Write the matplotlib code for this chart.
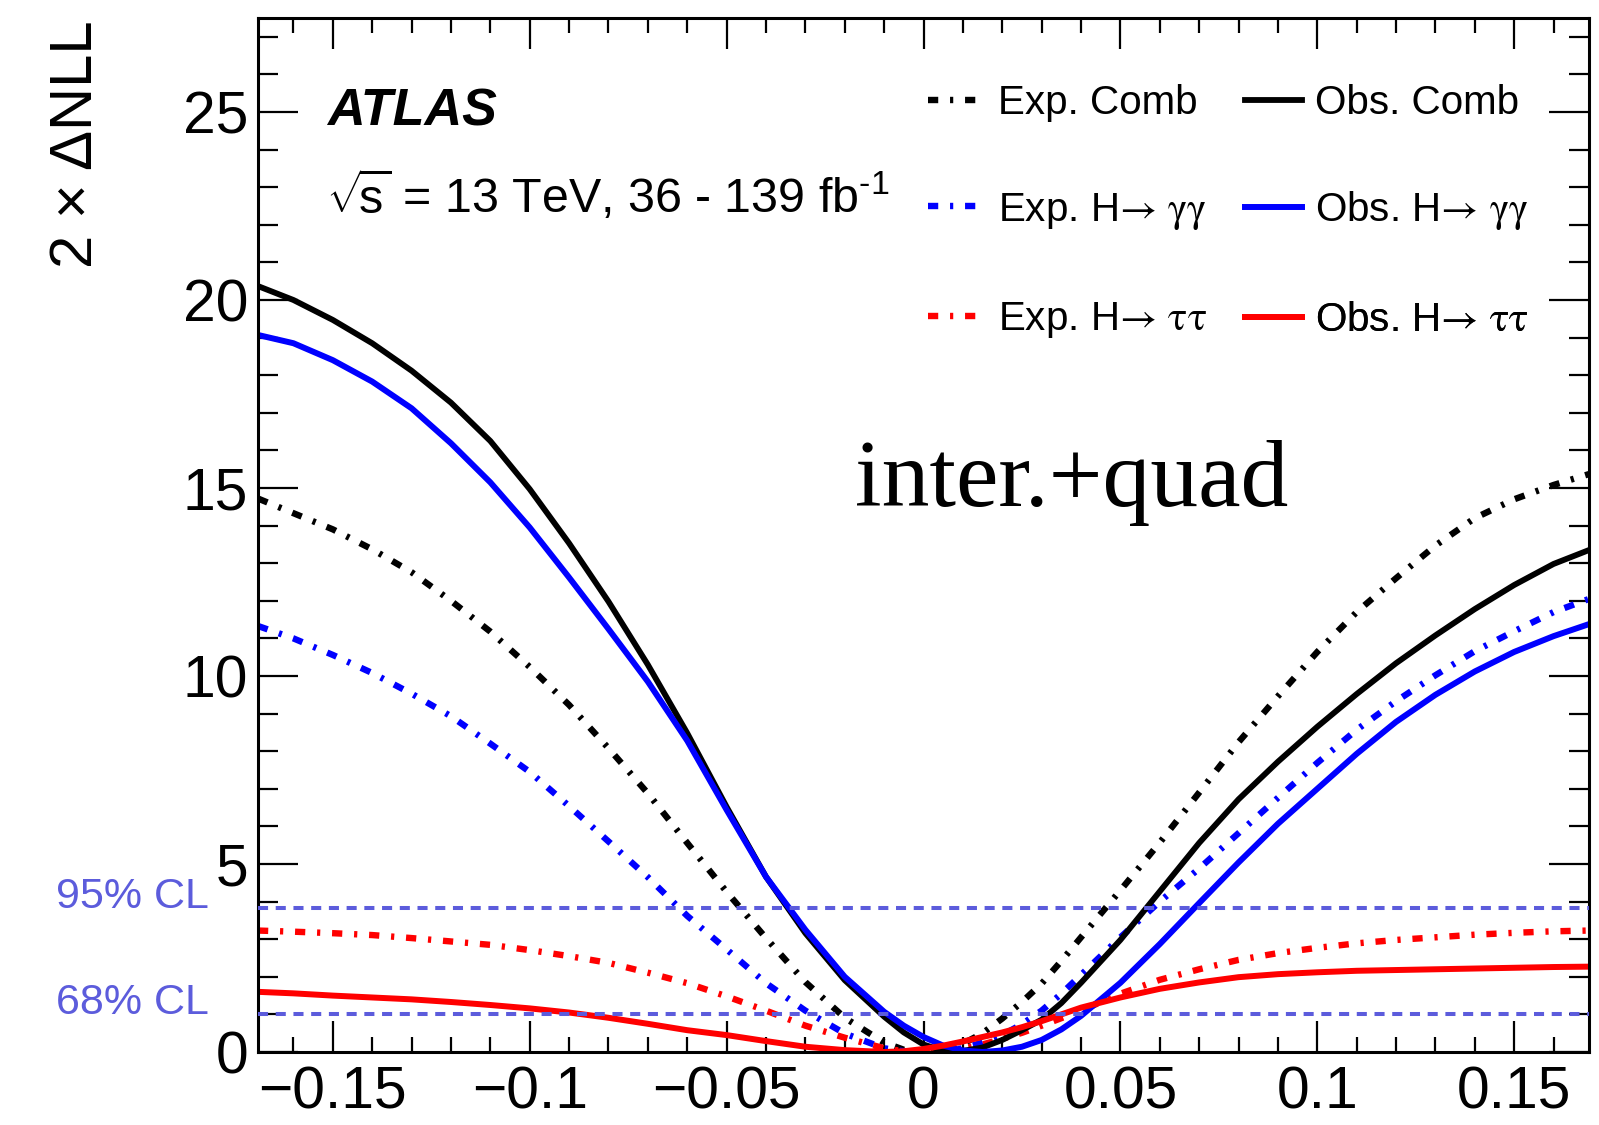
import matplotlib
matplotlib.use("Agg")
import matplotlib.pyplot as plt
from matplotlib.transforms import blended_transform_factory
from matplotlib.ticker import MultipleLocator, FixedLocator, FixedFormatter

plt.rcParams['font.family'] = ['Liberation Sans', 'DejaVu Sans']
plt.rcParams['mathtext.fontset'] = 'custom'
plt.rcParams['mathtext.rm'] = 'Liberation Sans'
plt.rcParams['mathtext.it'] = 'Liberation Sans:italic'
plt.rcParams['mathtext.bf'] = 'Liberation Sans:bold'
plt.rcParams['mathtext.sf'] = 'STIXGeneral'

# ---------------- data ----------------
x_grid = [-0.169, -0.16, -0.15, -0.14, -0.13, -0.12, -0.11, -0.10, -0.09, -0.08,
          -0.07, -0.06, -0.05, -0.04, -0.03, -0.02, -0.01, -0.005, 0.0, 0.005,
          0.01, 0.015, 0.02, 0.025, 0.03, 0.035, 0.04, 0.05, 0.06, 0.07,
          0.08, 0.09, 0.10, 0.11, 0.12, 0.13, 0.14, 0.15, 0.16, 0.169]

obs_comb = [20.37, 20.0, 19.47, 18.85, 18.12, 17.27, 16.25, 14.97, 13.53, 11.98,
            10.30, 8.48, 6.52, 4.66, 3.16, 1.91, 0.94, 0.52, 0.20, 0.03,
            0.03, 0.12, 0.32, 0.58, 0.86, 1.30, 1.84, 2.98, 4.27, 5.56,
            6.72, 7.72, 8.65, 9.52, 10.34, 11.08, 11.78, 12.42, 12.98, 13.35]

obs_gg = [19.07, 18.85, 18.40, 17.83, 17.12, 16.19, 15.15, 13.95, 12.62, 11.25,
          9.85, 8.28, 6.44, 4.66, 3.25, 2.00, 1.07, 0.70, 0.40, 0.17,
          0.04, 0.0, 0.04, 0.14, 0.32, 0.60, 0.96, 1.84, 2.87, 3.96,
          5.04, 6.07, 7.00, 7.93, 8.78, 9.50, 10.12, 10.64, 11.06, 11.38]

obs_tt = [1.60, 1.56, 1.50, 1.45, 1.40, 1.33, 1.25, 1.16, 1.05, 0.91,
          0.75, 0.58, 0.45, 0.29, 0.14, 0.05, 0.0, 0.02, 0.08, 0.17,
          0.28, 0.40, 0.52, 0.66, 0.82, 1.00, 1.18, 1.45, 1.68, 1.85,
          1.99, 2.07, 2.12, 2.16, 2.18, 2.20, 2.22, 2.24, 2.26, 2.27]

exp_comb = [14.72, 14.33, 13.90, 13.37, 12.76, 12.00, 11.18, 10.24, 9.23, 8.08,
            6.88, 5.56, 4.26, 3.03, 1.86, 0.91, 0.25, 0.06, 0.0, 0.06,
            0.22, 0.50, 0.89, 1.33, 1.82, 2.42, 3.05, 4.30, 5.57, 6.90,
            8.24, 9.46, 10.64, 11.70, 12.60, 13.47, 14.20, 14.70, 15.08, 15.37]

exp_gg = [11.33, 11.00, 10.56, 10.08, 9.53, 8.93, 8.20, 7.45, 6.54, 5.60,
          4.65, 3.62, 2.73, 1.83, 1.10, 0.49, 0.10, 0.02, 0.0, 0.02,
          0.10, 0.25, 0.45, 0.74, 1.10, 1.55, 2.05, 3.05, 4.00, 4.88,
          5.82, 6.76, 7.69, 8.57, 9.33, 10.02, 10.66, 11.19, 11.70, 12.05]

exp_tt = [3.23, 3.20, 3.16, 3.11, 3.03, 2.94, 2.85, 2.71, 2.55, 2.37,
          2.11, 1.83, 1.48, 1.10, 0.70, 0.38, 0.10, 0.02, 0.0, 0.02,
          0.10, 0.20, 0.35, 0.51, 0.70, 0.90, 1.10, 1.55, 1.92, 2.20,
          2.45, 2.63, 2.77, 2.89, 2.98, 3.05, 3.12, 3.17, 3.21, 3.23]

cl_levels = [3.84, 1.0]
cl_labels = ['95% CL', '68% CL']

xtick_vals = [-0.15, -0.1, -0.05, 0.0, 0.05, 0.1, 0.15]
xtick_labels = ['\u22120.15', '\u22120.1', '\u22120.05', '0', '0.05', '0.1', '0.15']
ytick_vals = [0, 5, 10, 15, 20, 25]
ytick_labels = ['0', '5', '10', '15', '20', '25']

legend_labels = ['Exp. Comb',
                 'Exp. H$\\mathsf{\u2192}$ $\\mathsf{\\gamma\\gamma}$',
                 'Exp. H$\\mathsf{\u2192}$ $\\mathsf{\\tau\\tau}$',
                 'Obs. Comb',
                 'Obs. H$\\mathsf{\u2192}$ $\\mathsf{\\gamma\\gamma}$',
                 'Obs. H$\\mathsf{\u2192}$ $\\mathsf{\\tau\\tau}$']

# ---------------- figure ----------------
W, H = 1599, 1125
fig = plt.figure(figsize=(W / 100, H / 100), dpi=100)
ax = fig.add_axes([258 / W, 1 - 1052 / H, 1331 / W, 1034 / H])

dashdot = (0, (1.6, 1.85, 0.5, 1.85))
cl_color = '#5c5cdc'

l_ec, = ax.plot(x_grid, exp_comb, color='black', lw=4.6, ls=dashdot)
l_eg, = ax.plot(x_grid, exp_gg, color='#0000ff', lw=4.6, ls=dashdot)
l_et, = ax.plot(x_grid, exp_tt, color='#ff0000', lw=4.6, ls=dashdot)
l_oc, = ax.plot(x_grid, obs_comb, color='black', lw=4.2)
l_og, = ax.plot(x_grid, obs_gg, color='#0000ff', lw=4.3)
l_ot, = ax.plot(x_grid, obs_tt, color='#ff0000', lw=4.3)

for lev in cl_levels:
    ax.axhline(lev, color=cl_color, lw=2.9, ls=(0, (2.5, 1.9)), zorder=5)

ax.set_xlim(-0.169, 0.169)
ax.set_ylim(0, 27.5)

ax.xaxis.set_major_locator(FixedLocator(xtick_vals))
ax.xaxis.set_major_formatter(FixedFormatter(xtick_labels))
ax.xaxis.set_minor_locator(MultipleLocator(0.01))
ax.yaxis.set_major_locator(FixedLocator(ytick_vals))
ax.yaxis.set_major_formatter(FixedFormatter(ytick_labels))
ax.yaxis.set_minor_locator(MultipleLocator(1))

ax.tick_params(which='both', direction='in', top=True, right=True, width=1.6)
ax.tick_params(axis='x', which='major', length=22, labelsize=42.3, pad=10)
ax.tick_params(axis='x', which='minor', length=11)
ax.tick_params(axis='y', which='major', length=29, labelsize=42.3, pad=7)
ax.tick_params(axis='y', which='minor', length=14.5)
for s in ax.spines.values():
    s.set_linewidth(2.2)

# y label
fig.text(77 / W, 1 - 20 / H, '2 \u00d7 \u0394NLL', rotation=90, ha='center', va='top',
         fontsize=43)

# CL labels
tr = blended_transform_factory(fig.transFigure, ax.transData)
for lev, lab in zip(cl_levels, cl_labels):
    ax.text(56 / W, lev, lab, transform=tr, color=cl_color, fontsize=31,
            ha='left', va='baseline', clip_on=False)

# ATLAS texts
fig.text(327 / W, 1 - 125 / H, 'ATLAS', fontsize=37.5, fontweight='bold',
         fontstyle='italic', ha='left', va='baseline')
fig.text(326 / W, 1 - 213 / H, r'$\sqrt{\!\mathrm{s}}$ = 13 TeV, 36 - 139 fb$^{\text{-1}}$',
         fontsize=34.8, ha='left', va='baseline')
fig.text(855 / W, 1 - 506 / H, 'inter.+quad', fontsize=68.8,
         family=['Liberation Serif', 'DejaVu Serif'], ha='left', va='baseline')

# legends (two columns, three rows)
handles = [l_ec, l_eg, l_et, l_oc, l_og, l_ot]
col_x = [928, 1245]
row_y = [103, 211, 320]
for i, (h, lab) in enumerate(zip(handles, legend_labels)):
    cx = col_x[i // 3]
    cy = row_y[i % 3]
    leg = ax.legend([h], [lab], loc='center left',
                    bbox_to_anchor=(cx / W, 1 - cy / H), bbox_transform=fig.transFigure,
                    frameon=False, borderpad=0, borderaxespad=0, handlelength=1.4,
                    handletextpad=0.33, fontsize=29.1)
    ax.add_artist(leg)

fig.savefig('out.png', dpi=100)
